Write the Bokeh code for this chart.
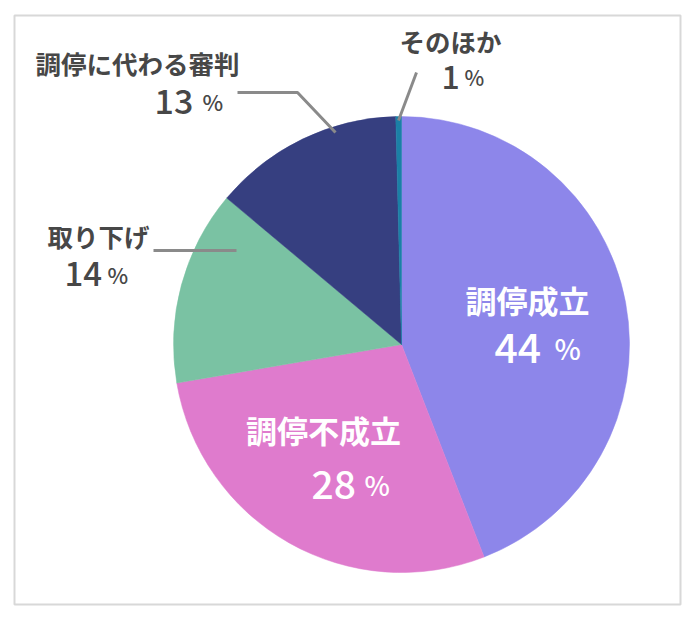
import math
from bokeh.plotting import figure
from bokeh.models import Range1d
from bokeh.core.properties import value
from bokeh.embed import file_html
from bokeh.resources import INLINE

# ---- data ----
categories = ["調停成立", "調停不成立", "取り下げ", "調停に代わる審判", "そのほか"]
shares = [44.1, 28.2, 13.8, 13.5, 0.4]
pct_labels = ["44", "28", "14", "13", "1"]
colors = ["#8D86EA", "#DF7BCD", "#7AC2A3", "#363F80", "#1B80A6"]

W, H = 684, 608
p = figure(width=W, height=H, output_backend="svg", toolbar_location=None,
           x_range=Range1d(0, W), y_range=Range1d(624 - H, 624), min_border=0)
p.axis.visible = False
p.grid.visible = False
p.outline_line_color = None
p.background_fill_color = "white"
p.border_fill_color = "white"

def Y(py):
    return 624 - py

# frame
p.quad(left=14, right=680, bottom=Y(604), top=Y(15), fill_color=None,
       line_color="#d8d8d8", line_width=2)

# pie
cx, cy, r = 401, Y(344), 228
total = sum(shares)
starts, ends = [], []
acc = 0.0
for s in shares:
    a0 = math.pi / 2 - 2 * math.pi * acc / total
    acc += s
    a1 = math.pi / 2 - 2 * math.pi * acc / total
    starts.append(a0)
    ends.append(a1)
p.wedge(x=[cx] * len(shares), y=[cy] * len(shares), radius=r,
        start_angle=starts, end_angle=ends, direction="clock",
        fill_color=colors, line_color=colors, line_width=0.5)

# leader lines
lc = "#8a8a8a"
p.line([416, 398], [Y(72), Y(120)], line_color=lc, line_width=3)
p.line([237, 297, 335], [Y(92), Y(92), Y(132)], line_color=lc, line_width=3)
p.line([153, 236], [Y(250), Y(250)], line_color=lc, line_width=3)

JP = value("Noto Sans CJK JP")
NUM = value("Noto Sans CJK JP Medium")
dark = "#474747"

def label(x, py, txt, size, color, align="center", baseline="middle",
          bold=True, font=JP):
    p.text(x=[x], y=[Y(py)], text=[txt], text_font=font,
           text_font_size=f"{size}px", text_color=color,
           text_align=align, text_baseline=baseline,
           text_font_style="bold" if bold else "normal")

# category names
label(527, 299, categories[0], 31, "white")
label(323, 429, categories[1], 31, "white")
label(35, 62, categories[3], 25.5, dark, align="left")
label(47, 235, categories[2], 25.5, dark, align="left")
label(399, 40, categories[4], 25.5, dark, align="left")

# percentages (alphabetic baseline correction ~0.4em)
entries = [
    (pct_labels[0], 494, 554, 365, 41, 28, "white"),
    (pct_labels[1], 311, 364, 500, 39, 27, "white"),
    (pct_labels[3], 154, 202, 115, 34, 22, dark),
    (pct_labels[2], 64, 107, 287, 33, 22, dark),
    (pct_labels[4], 441, 464, 90, 32, 21, dark),
]
for txt, xn, xp, pyb, ns, ps, col in entries:
    label(xn, pyb - 0.42 * ns, txt, ns, col, align="left", baseline="alphabetic",
          bold=False, font=NUM)
    label(xp, pyb - 0.42 * ns, "%", ps, col, align="left", baseline="alphabetic",
          bold=False, font=NUM)

open("out.html", "w").write(file_html(p, INLINE))
